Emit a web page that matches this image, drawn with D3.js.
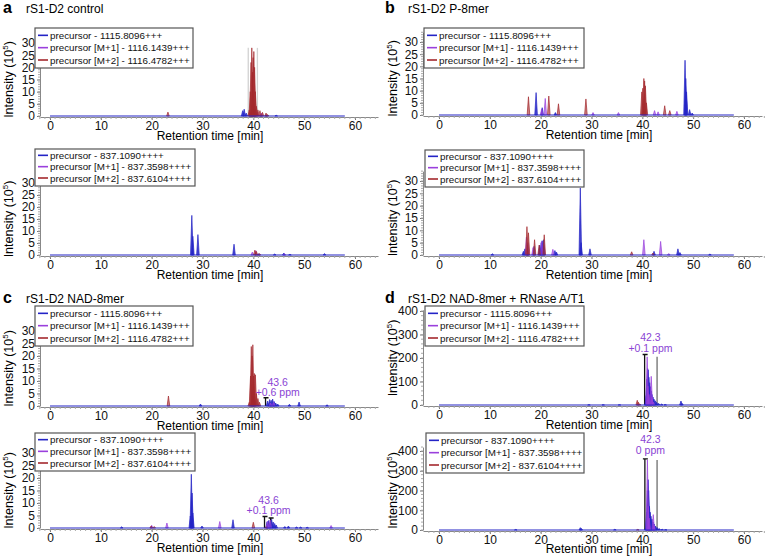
<!DOCTYPE html>
<html>
<head>
<meta charset="utf-8">
<script src="https://cdn.jsdelivr.net/npm/d3@7"></script>
<style>
  body { margin: 0; background: #fff; }
  svg { display: block; font-family: "Liberation Sans", Arial, sans-serif; }
</style>
</head>
<body>
<div id="container"></div>
<script>
// ---- data (time in min, intensity in 10^5) ----
const panelLetters = ['a', 'b', 'c', 'd']
const panelTitles = ['rS1-D2 control', 'rS1-D2 P-8mer', 'rS1-D2 NAD-8mer', 'rS1-D2 NAD-8mer + RNase A/T1']
const seriesNames = ['precursor', 'precursor [M+1]', 'precursor [M+2]']
const mzTop = ['1115.8096+++', '1116.1439+++', '1116.4782+++']
const mzBottom = ['837.1090++++', '837.3598++++', '837.6104++++']
const xTicks = [0, 10, 20, 30, 40, 50, 60]
const yTicksSmall = [0, 5, 10, 15, 20, 25, 30]
const yTicksLarge = [0, 100, 200, 300, 400]
const runEnd = 58

// peaks: [retention time, intensity]
const a1Blue = [[37.9, 2.2], [38.2, 2.8], [38.6, 1.2], [39.4, 1.5], [39.9, 3.5], [40.3, 1.5], [41.5, 0.6], [42.5, 0.5], [44.5, 0.3]]
const a1Purple = [[39.6, 2.5], [39.9, 4.8], [40.1, 5.2], [40.4, 3.0], [40.8, 1.5], [41.6, 1.2]]
const a1Red = [[23.2, 1.6], [39.2, 2.5], [39.4, 10], [39.55, 22], [39.7, 28], [39.85, 18], [39.95, 24], [40.1, 26.5], [40.25, 20], [40.4, 10], [40.6, 4], [40.9, 2.5], [41.3, 2.2], [41.8, 1.5], [42.5, 1.2], [42.8, 0.6]]
const a1Marks = [[39.0, 28, 'light'], [40.8, 28, 'light']]

const a2Blue = [[27.9, 16.5], [28.1, 7.8], [29.1, 8.5], [36.2, 4.5], [41.0, 0.5], [44.2, 0.4], [46.0, 0.8], [47.2, 0.3], [54.0, 0.6]]
const a2Purple = [[39.8, 1.2], [40.5, 1.8], [46.1, 0.5]]
const a2Red = [[40.3, 2.0], [40.6, 1.5], [41.2, 0.6]]

const b1Blue = [[19.1, 9.2], [20.3, 3], [22.9, 1], [48.4, 22.5], [48.55, 15], [48.7, 9.5], [49.3, 2.2], [49.8, 0.8]]
const b1Purple = [[20.2, 2.5], [20.9, 6.8], [30.3, 1], [35.3, 1], [42.4, 1.8], [43.1, 1.3], [46.8, 1.5]]
const b1Red = [[17.6, 7.5], [21.6, 7.8], [23.5, 4.6], [28.9, 6.6], [39.9, 9.5], [40.1, 11], [40.3, 15], [40.45, 14], [40.6, 12], [40.8, 5], [44.4, 3.8], [45.4, 1.8]]

const b2Blue = [[10.5, 0.5], [16.6, 1.5], [16.9, 2.5], [17.4, 4], [18.7, 3.5], [19.8, 4], [20.1, 5], [20.3, 5.8], [20.6, 6.2], [22.8, 1.8], [23.1, 1.2], [27.8, 27.2], [27.95, 5], [29.7, 2.5], [42.3, 1.5], [47.0, 2.5], [47.4, 1], [53.3, 0.4]]
const b2Purple = [[17.2, 7.2], [17.5, 5], [18.5, 3], [20.2, 5.5], [22.4, 2.3], [40.3, 6.2], [43.6, 5.5], [45.2, 0.6]]
const b2Red = [[17.3, 11.5], [17.6, 9], [18.8, 6.2], [19.7, 4], [20.7, 8.2], [37.9, 1.3], [42.1, 0.8]]

const c1Blue = [[29.6, 0.8], [39.9, 4.2], [42.8, 2], [43.2, 2.6], [43.5, 2.3], [43.8, 2.8], [44.1, 1.8], [44.4, 1.2], [44.8, 0.8], [47.1, 0.7], [49.0, 1.6], [54.5, 0.5]]
const c1Purple = [[40.2, 2.5], [43.4, 1.2], [44.0, 1.5]]
const c1Red = [[23.3, 4], [39.2, 1.5], [39.45, 12], [39.6, 23.8], [39.75, 20], [39.9, 24.5], [40.05, 12], [40.2, 13], [40.4, 12.5], [40.6, 5], [40.9, 3], [41.2, 1.5]]
const c1Marks = [[42.4, 3.3, 'black']]
const c1Note = ['43.6', '+0.6 ppm', 44.8, 8.0, 4.0]

const c2Blue = [[14.1, 0.5], [27.6, 4.8], [27.8, 21.5], [27.95, 14], [28.1, 6], [29.9, 0.8], [36.0, 3.3], [42.7, 2.5], [43.0, 3.0], [43.3, 2.2], [43.6, 3.5], [43.9, 2.4], [44.2, 1.8], [44.5, 1.2], [46.2, 0.6], [46.9, 0.8], [48.5, 0.4], [49.3, 0.4], [50.6, 0.3]]
const c2Purple = [[20.0, 1.1], [23.0, 2], [33.4, 2.6], [42.8, 2.7], [43.3, 3.2], [55.3, 1.0]]
const c2Red = [[19.9, 0.8], [20.5, 0.6], [40.0, 2.3], [42.5, 0.5]]
const c2Marks = [[42.2, 4.6, 'black'], [43.4, 4.0, 'black']]
const c2Note = ['43.6', '+0.1 ppm', 43.0, 9.8, 5.8]

const d1Blue = [[29.5, 1.5], [32.3, 1], [35.5, 1], [40.6, 6], [40.75, 40], [40.9, 110], [41.05, 155], [41.15, 150], [41.3, 118], [41.45, 95], [41.6, 78], [41.75, 60], [41.9, 45], [42.1, 34], [42.3, 25], [42.55, 18], [42.8, 12], [43.2, 7], [43.8, 4], [44.5, 2], [47.6, 17], [47.8, 7]]
const d1Purple = [[40.95, 205], [41.1, 80], [41.3, 45], [41.75, 122], [41.9, 35], [42.2, 12]]
const d1Red = [[39.0, 20], [39.2, 12], [39.5, 4]]
const d1Marks = [[40.45, 215, 'black'], [42.9, 205, 'gray']]
const d1Note = ['42.3', '+0.1 ppm', 41.6, 272, 227]

const d2Blue = [[15.1, 3], [27.8, 12], [28.0, 8], [34.6, 4], [40.7, 10], [40.85, 90], [41.0, 200], [41.15, 255], [41.25, 200], [41.4, 120], [41.55, 90], [41.7, 70], [41.9, 55], [42.1, 40], [42.35, 30], [42.6, 20], [42.9, 13], [43.3, 8], [43.9, 4], [44.6, 2]]
const d2Purple = [[41.0, 355], [41.15, 120], [41.35, 60], [42.15, 78], [42.3, 25]]
const d2Red = [[39.1, 3]]
const d2Marks = [[40.5, 360, 'black'], [42.9, 355, 'gray']]
const d2Note = ['42.3', '0 ppm', 41.6, 438, 384]

// ---- layout ----
const W = 768
const H = 556
const colors = ['#2424c6', '#9a40dc', '#a4282c']
const markColors = { light: '#d2d2d2', gray: '#6e6e6e', black: '#111' }
const noteColor = '#8a44d4'

const cols = [
  { x0: 50, axisL: 40, axisR: 378, ytx: 13, head: 3 },
  { x0: 439, axisL: 423, axisR: 762, ytx: 397, head: 385 }
]
const headY = [13, 303]

const plots = [
  { col: 0, zero: 116, ref: 43, refVal: 30, top: 34, ticks: yTicksSmall, minor: 1, mz: mzTop, legend: [35, 28, 158, 40], series: [a1Blue, a1Purple, a1Red], marks: a1Marks },
  { col: 0, zero: 255, ref: 183, refVal: 30, top: 34, ticks: yTicksSmall, minor: 1, mz: mzBottom, legend: [35, 149, 160, 37], series: [a2Blue, a2Purple, a2Red] },
  { col: 1, zero: 115, ref: 42, refVal: 30, top: 34, ticks: yTicksSmall, minor: 1, mz: mzTop, legend: [424, 28, 160, 40], series: [b1Blue, b1Purple, b1Red] },
  { col: 1, zero: 255, ref: 181, refVal: 30, top: 34, ticks: yTicksSmall, minor: 1, mz: mzBottom, legend: [425, 150, 159, 37], series: [b2Blue, b2Purple, b2Red] },
  { col: 0, zero: 406, ref: 331, refVal: 30, top: 33, ticks: yTicksSmall, minor: 1, mz: mzTop, legend: [35, 306, 158, 40], series: [c1Blue, c1Purple, c1Red], marks: c1Marks, note: c1Note },
  { col: 0, zero: 528, ref: 453, refVal: 30, top: 34, ticks: yTicksSmall, minor: 1, mz: mzBottom, legend: [35, 433, 160, 38], series: [c2Blue, c2Purple, c2Red], marks: c2Marks, note: c2Note },
  { col: 1, zero: 405, ref: 311, refVal: 400, top: 405, ticks: yTicksLarge, minor: 20, mz: mzTop, legend: [425, 306, 159, 40], series: [d1Blue, d1Purple, d1Red], marks: d1Marks, note: d1Note },
  { col: 1, zero: 530, ref: 451, refVal: 400, top: 420, ticks: yTicksLarge, minor: 20, mz: mzBottom, legend: [426, 433, 158, 40], series: [d2Blue, d2Purple, d2Red], marks: d2Marks, note: d2Note }
]

const svg = d3.select('#container')
  .append('svg')
  .attr('width', W)
  .attr('height', H)
  .attr('viewBox', '0 0 ' + W + ' ' + H)

// panel headings
panelLetters.forEach((letter, i) => {
  const col = cols[i % 2]
  const y = headY[Math.floor(i / 2)]
  svg.append('text')
    .attr('x', col.head).attr('y', y)
    .style('font-size', '16px').style('font-weight', 'bold')
    .text(letter)
  svg.append('text')
    .attr('x', col.head + 23).attr('y', y)
    .style('font-size', '12px')
    .text(panelTitles[i])
})

plots.forEach(drawPlot)

function drawPlot (p) {
  const col = cols[p.col]
  const perMin = 305 / 60
  const x = d3.scaleLinear()
    .domain([(col.axisL - col.x0) / perMin, (col.axisR - col.x0) / perMin])
    .range([col.axisL, col.axisR])
  const y = d3.scaleLinear().domain([0, p.refVal]).range([p.zero, p.ref])
  const ya = d3.scaleLinear().domain([0, p.top]).range([p.zero, y(p.top)])

  const g = svg.append('g')

  // x axis
  const xAxis = g.append('g')
    .attr('transform', 'translate(0,' + (p.zero + 1) + ')')
    .call(d3.axisBottom(x).tickValues(xTicks).tickSize(3).tickSizeOuter(0).tickPadding(1))
  xAxis.append('g').selectAll('line')
    .data(d3.range(-2, 65, 1))
    .enter().append('line')
    .attr('x1', d => x(d)).attr('x2', d => x(d))
    .attr('y1', 0).attr('y2', 2)
    .attr('stroke', '#aaa')

  // y axis
  const yAxis = g.append('g')
    .attr('transform', 'translate(' + col.axisL + ',0)')
    .call(d3.axisLeft(ya).tickValues(p.ticks).tickSize(3).tickSizeOuter(0).tickPadding(2))
  yAxis.append('g').selectAll('line')
    .data(d3.range(0, p.top + 0.01, p.minor))
    .enter().append('line')
    .attr('x1', 0).attr('x2', -2)
    .attr('y1', d => ya(d)).attr('y2', d => ya(d))
    .attr('stroke', '#aaa')

  g.selectAll('.domain').attr('stroke', '#888')
  g.selectAll('.tick line').attr('stroke', '#777')
  g.selectAll('.tick text')
    .attr('fill', '#111')
    .style('font-size', '12px')
    .style('font-family', '"Liberation Sans", Arial, sans-serif')

  g.append('text')
    .attr('x', col.x0 + 160).attr('y', Math.min(p.zero + 24, H - 3.5))
    .attr('text-anchor', 'middle')
    .style('font-size', '12px')
    .text('Retention time [min]')

  const yt = g.append('text')
    .attr('transform', 'translate(' + col.ytx + ',' + ((p.zero + p.ref) / 2) + ') rotate(-90)')
    .attr('text-anchor', 'middle')
    .style('font-size', '12.5px')
  yt.append('tspan').text('Intensity (10')
  yt.append('tspan').attr('dy', -5).style('font-size', '8px').text('5')
  yt.append('tspan').attr('dy', 5).text(')')

  // integration boundary marks
  g.append('g').selectAll('path')
    .data(p.marks || [])
    .enter().append('path')
    .attr('d', d => {
      const px = x(d[0])
      const top = y(d[1])
      let s = 'M' + px + ',' + p.zero + 'V' + top
      if (d[2] === 'black') s += 'M' + (px - 2) + ',' + top + 'H' + (px + 3)
      return s
    })
    .attr('fill', 'none')
    .attr('stroke', d => markColors[d[2]])
    .attr('stroke-width', 1.3)

  // peaks
  const hw = 1.3
  p.series.forEach((pts, i) => {
    g.append('g').selectAll('path')
      .data(pts)
      .enter().append('path')
      .attr('d', d => {
        const px = x(d[0])
        return 'M' + (px - hw) + ',' + p.zero + 'L' + px + ',' + y(d[1]) + 'L' + (px + hw) + ',' + p.zero + 'Z'
      })
      .attr('fill', colors[i])
      .attr('fill-opacity', i === 0 ? 0.85 : 0.6)
      .attr('stroke', colors[i])
      .attr('stroke-width', 0.7)
      .attr('stroke-linejoin', 'round')
  })

  // baseline
  g.append('line')
    .attr('x1', x(0)).attr('x2', x(runEnd))
    .attr('y1', p.zero).attr('y2', p.zero)
    .attr('stroke', colors[0])
    .attr('stroke-width', 1.2)

  // legend
  const [lx, ly, lw, lh] = p.legend
  const lg = g.append('g')
  lg.append('rect')
    .attr('x', lx).attr('y', ly).attr('width', lw).attr('height', lh)
    .attr('fill', '#fff').attr('stroke', '#555').attr('stroke-width', 1.2)
  const step = (lh - 3) / 3
  seriesNames.forEach((name, i) => {
    const by = ly + 1 + step * (i + 1) - 2.5
    lg.append('line')
      .attr('x1', lx + 3).attr('x2', lx + 13)
      .attr('y1', by - 3.5).attr('y2', by - 3.5)
      .attr('stroke', colors[i]).attr('stroke-width', 1.6)
    lg.append('text')
      .attr('x', lx + 15).attr('y', by)
      .style('font-size', '9.8px')
      .attr('fill', '#111')
      .text(name + ' - ' + p.mz[i])
  })

  // peak annotation
  if (p.note) {
    const [rt, ppm, t, v1, v2] = p.note
    g.append('text')
      .attr('x', x(t)).attr('y', y(v1))
      .attr('text-anchor', 'middle')
      .attr('fill', noteColor)
      .style('font-size', '10.5px')
      .text(rt)
    g.append('text')
      .attr('x', x(t)).attr('y', y(v2))
      .attr('text-anchor', 'middle')
      .attr('fill', noteColor)
      .style('font-size', '10.5px')
      .text(ppm)
  }
}
</script>
</body>
</html>
